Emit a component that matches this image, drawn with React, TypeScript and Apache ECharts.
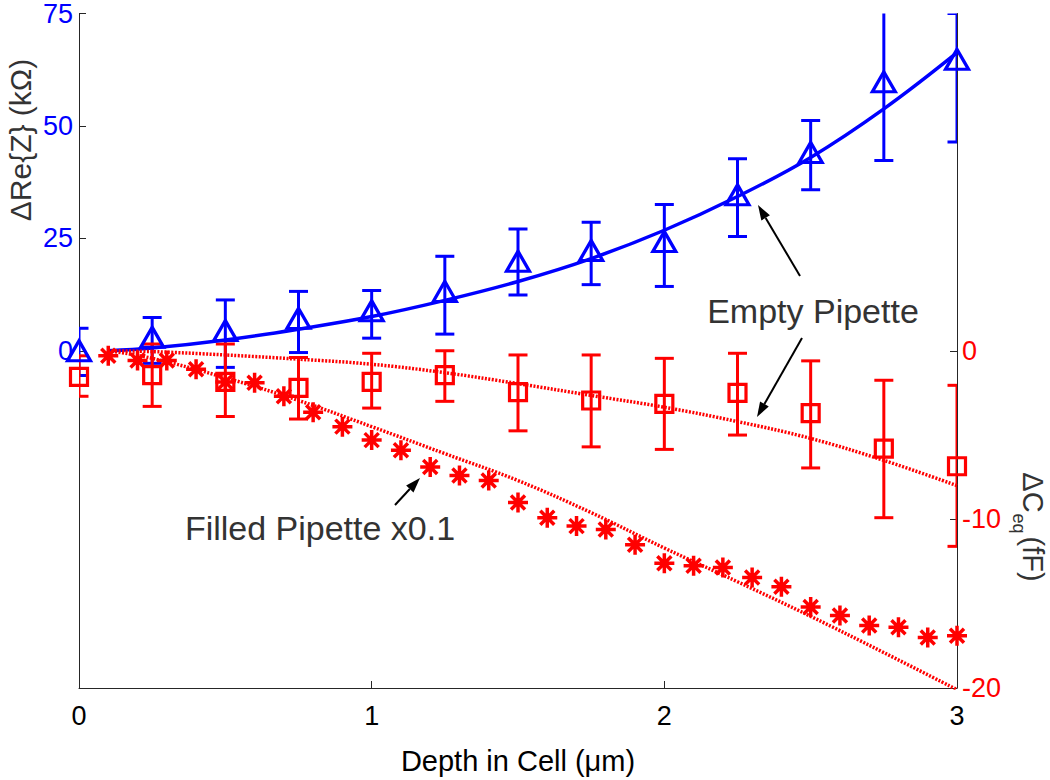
import React, { useEffect, useRef } from "react";
import * as echarts from "echarts";

// ---------- data ----------
const depth = [0, 0.25, 0.5, 0.75, 1.0, 1.25, 1.5, 1.75, 2.0, 2.25, 2.5, 2.75, 3.0];

// Empty pipette, ΔRe{Z} (kΩ)
const reZ = [0, 3.0, 4.5, 7.2, 8.9, 13.2, 19.9, 22.3, 24.3, 34.7, 44.1, 59.8, 64.8];
const reZLow = [-5.5, -2.8, -3.7, -0.4, 2.8, 3.7, 12.4, 14.7, 14.3, 25.4, 35.8, 42.3, 46.4];
const reZHigh = [5.0, 7.4, 11.3, 13.2, 13.4, 21.0, 27.1, 28.6, 32.5, 42.7, 51.2, 79.0, 75.0];

// fit for ΔRe{Z}
const reZFitX = [0.1, 0.25, 0.5, 0.75, 1.0, 1.25, 1.5, 1.75, 2.0, 2.25, 2.5, 2.75, 3.0];
const reZFit = [0, 0.6, 2.4, 4.8, 7.6, 11.2, 15.4, 20.5, 26.8, 34.3, 43.0, 53.8, 66.3];

// Empty pipette, ΔCeq (fF)
const cEq = [-1.55, -1.45, -1.85, -2.2, -1.85, -1.45, -2.45, -2.95, -3.15, -2.5, -3.7, -5.8, -6.85];
const cEqLow = [-2.7, -3.3, -3.9, -4.05, -3.4, -3.0, -4.75, -5.7, -5.85, -5.0, -6.95, -9.9, -11.6];
const cEqHigh = [-0.3, 0.4, 0.4, -0.4, -0.15, 0, -0.25, -0.25, -0.45, -0.15, -0.6, -1.75, -2.05];

const cEqFitX = [0.1, 0.25, 0.5, 0.75, 1.0, 1.25, 1.5, 1.75, 2.0, 2.25, 2.5, 2.75, 3.0];
const cEqFit = [0, -0.05, -0.25, -0.5, -0.8, -1.3, -1.95, -2.65, -3.35, -4.2, -5.2, -6.5, -8.0];

// Filled pipette x0.1, ΔCeq (fF)
const filledX = [0.1, 0.2, 0.3, 0.4, 0.5, 0.6, 0.7, 0.8, 0.9, 1.0, 1.1, 1.2, 1.3, 1.4, 1.5,
  1.6, 1.7, 1.8, 1.9, 2.0, 2.1, 2.2, 2.3, 2.4, 2.5, 2.6, 2.7, 2.8, 2.9, 3.0];
const filledC = [-0.3, -0.58, -0.58, -1.1, -1.85, -1.9, -2.7, -3.65, -4.5, -5.3, -5.9, -6.9, -7.4, -7.7, -9.0,
  -9.9, -10.4, -10.6, -11.5, -12.6, -12.75, -12.85, -13.45, -14.0, -15.2, -15.7, -16.3, -16.4, -17.0, -16.9];

const filledFitX = [0.1, 0.25, 0.5, 0.75, 1.0, 1.25, 1.5, 1.75, 2.0, 2.25, 2.5, 2.75, 3.0];
const filledFit = [0, -0.45, -1.6, -2.95, -4.5, -6.1, -7.7, -9.6, -11.7, -13.7, -15.75, -17.9, -20.1];

const xTicks = [0, 1, 2, 3];
const leftTicks = [0, 25, 50, 75];
const rightTicks = [-20, -10, 0];

const BLUE = "#0000ff";
const RED = "#ff0000";
const TXT = "#333333";
const FONT = "'Liberation Sans', Arial, Helvetica, sans-serif";

function errorBarRender(color: string) {
  return (params: any, api: any) => {
    const x = api.value(0);
    const lo = api.value(1);
    const hi = api.value(2);
    const p0 = api.coord([x, lo]);
    const p1 = api.coord([x, hi]);
    const half = 9.5;
    const style = { stroke: color, lineWidth: 3, fill: "none" };
    return {
      type: "group",
      children: [
        { type: "line", shape: { x1: p0[0], y1: p0[1], x2: p1[0], y2: p1[1] }, style },
        { type: "line", shape: { x1: p0[0] - half, y1: p0[1], x2: p0[0] + half, y2: p0[1] }, style },
        { type: "line", shape: { x1: p1[0] - half, y1: p1[1], x2: p1[0] + half, y2: p1[1] }, style },
      ],
    };
  };
}

function arrow(x1: number, y1: number, x2: number, y2: number) {
  const ang = Math.atan2(y2 - y1, x2 - x1);
  const len = 15;
  const w = 5;
  const bx = x2 - len * Math.cos(ang);
  const by = y2 - len * Math.sin(ang);
  const nx = -Math.sin(ang);
  const ny = Math.cos(ang);
  return [
    {
      type: "line",
      shape: { x1, y1, x2: bx, y2: by },
      style: { stroke: "#000", lineWidth: 2 },
    },
    {
      type: "polygon",
      shape: {
        points: [
          [x2, y2],
          [bx + nx * w, by + ny * w],
          [bx - nx * w, by - ny * w],
        ],
      },
      style: { fill: "#000" },
    },
  ];
}

export default function App() {
  const ref = useRef<HTMLDivElement>(null);

  useEffect(() => {
    document.body.style.margin = "0";
    if (!ref.current) return;
    const chart = echarts.init(ref.current, undefined, { renderer: "svg" });

    const option: any = {
      animation: false,
      backgroundColor: "#ffffff",
      textStyle: { fontFamily: FONT },
      grid: { left: 79, right: 93, top: 9, bottom: 80, containLabel: false },
      xAxis: {
        type: "value",
        min: 0,
        max: 3,
        interval: 1,
        name: "Depth in Cell (μm)",
        nameLocation: "middle",
        nameGap: 58,
        nameTextStyle: { color: "#000", fontSize: 29, fontFamily: FONT },
        axisLine: { show: true, onZero: false, lineStyle: { color: "#262626", width: 1 } },
        axisTick: { show: true, inside: true, length: 7, lineStyle: { color: "#262626" }, customValues: xTicks },
        axisLabel: { color: "#000", fontSize: 27, margin: 14, fontFamily: FONT, customValues: xTicks },
        splitLine: { show: false },
      },
      yAxis: [
        {
          type: "value",
          min: -75,
          max: 75,
          interval: 25,
          position: "left",
          axisLine: { show: true, onZero: false, lineStyle: { color: "#262626", width: 1 } },
          axisTick: { show: true, inside: true, length: 7, lineStyle: { color: "#262626" }, customValues: leftTicks },
          axisLabel: {
            color: BLUE,
            fontSize: 27,
            margin: 6,
            fontFamily: FONT,
            customValues: leftTicks,
            formatter: (v: number) => (v >= 0 ? String(v) : ""),
          },
          splitLine: { show: false },
        },
        {
          type: "value",
          min: -20,
          max: 20,
          interval: 10,
          position: "right",
          axisLine: { show: true, onZero: false, lineStyle: { color: "#262626", width: 1 } },
          axisTick: { show: true, inside: true, length: 7, lineStyle: { color: "#262626" }, customValues: rightTicks },
          axisLabel: {
            color: RED,
            fontSize: 27,
            margin: 5,
            fontFamily: FONT,
            customValues: rightTicks,
            formatter: (v: number) => (v <= 0 ? String(v) : ""),
          },
          splitLine: { show: false },
        },
      ],
      series: [
        {
          name: "ReZ error",
          type: "custom",
          yAxisIndex: 0,
          clip: true,
          renderItem: errorBarRender(BLUE),
          data: depth.map((x, i) => [x, reZLow[i], reZHigh[i]]),
          z: 3,
        },
        {
          name: "ReZ fit",
          type: "line",
          yAxisIndex: 0,
          smooth: 0.4,
          showSymbol: false,
          symbol: "none",
          lineStyle: { color: BLUE, width: 3.5 },
          data: reZFitX.map((x, i) => [x, reZFit[i]]),
          z: 3,
        },
        {
          name: "ReZ",
          type: "scatter",
          yAxisIndex: 0,
          symbol: "triangle",
          symbolSize: [23, 20],
          clip: false,
          itemStyle: { color: "rgba(0,0,0,0)", borderColor: BLUE, borderWidth: 3.2, opacity: 1 },
          data: depth.map((x, i) => [x, reZ[i]]),
          z: 4,
        },
        {
          name: "Ceq error",
          type: "custom",
          yAxisIndex: 1,
          clip: true,
          renderItem: errorBarRender(RED),
          data: depth.map((x, i) => [x, cEqLow[i], cEqHigh[i]]),
          z: 3,
        },
        {
          name: "Ceq fit",
          type: "line",
          yAxisIndex: 1,
          smooth: 0.4,
          showSymbol: false,
          symbol: "none",
          lineStyle: { color: RED, width: 3.5, type: [2, 1.5] },
          data: cEqFitX.map((x, i) => [x, cEqFit[i]]),
          z: 3,
        },
        {
          name: "Ceq",
          type: "scatter",
          yAxisIndex: 1,
          symbol: "rect",
          symbolSize: 17,
          clip: false,
          itemStyle: { color: "rgba(0,0,0,0)", borderColor: RED, borderWidth: 3.2, opacity: 1 },
          data: depth.map((x, i) => [x, cEq[i]]),
          z: 4,
        },
        {
          name: "Filled fit",
          type: "line",
          yAxisIndex: 1,
          smooth: 0.4,
          showSymbol: false,
          symbol: "none",
          lineStyle: { color: RED, width: 3.5, type: [2, 1.5] },
          data: filledFitX.map((x, i) => [x, filledFit[i]]),
          z: 3,
        },
        {
          name: "Filled",
          type: "scatter",
          yAxisIndex: 1,
          symbol: "path://M10 0L10 20M0 10L20 10M3 3L17 17M3 17L17 3",
          symbolSize: 20,
          clip: false,
          itemStyle: { color: "rgba(0,0,0,0)", borderColor: RED, borderWidth: 3.5, opacity: 1 },
          data: filledX.map((x, i) => [x, filledC[i]]),
          z: 4,
        },
      ],
      graphic: [
        {
          type: "text",
          x: 20,
          y: 140,
          rotation: Math.PI / 2,
          style: {
            text: "ΔRe{Z} (kΩ)",
            fill: TXT,
            font: `30px ${FONT}`,
            align: "center",
            verticalAlign: "middle",
          },
        },
        {
          type: "text",
          x: 1033,
          y: 527,
          rotation: -Math.PI / 2,
          style: {
            text: "{m|ΔC}{s|eq}{m|(fF)}",
            fill: TXT,
            align: "center",
            verticalAlign: "middle",
            rich: {
              m: { fontSize: 29, fontFamily: FONT, lineHeight: 46, fill: TXT, verticalAlign: "middle" },
              s: { fontSize: 18, fontFamily: FONT, lineHeight: 20, fill: TXT, verticalAlign: "bottom", padding: [0, 3, 0, 1] },
            },
          },
        },
        {
          type: "text",
          x: 813,
          y: 311,
          style: {
            text: "Empty Pipette",
            fill: TXT,
            font: `34px ${FONT}`,
            align: "center",
            verticalAlign: "middle",
          },
        },
        {
          type: "text",
          x: 320,
          y: 528,
          style: {
            text: "Filled Pipette x0.1",
            fill: TXT,
            font: `34px ${FONT}`,
            align: "center",
            verticalAlign: "middle",
          },
        },
        ...arrow(800, 276, 758, 205),
        ...arrow(802, 338, 757, 417),
        ...arrow(395, 505, 420, 478),
      ],
    };

    chart.setOption(option);
    return () => {
      chart.dispose();
    };
  }, []);

  return <div ref={ref} style={{ width: 1050, height: 780 }} />;
}
